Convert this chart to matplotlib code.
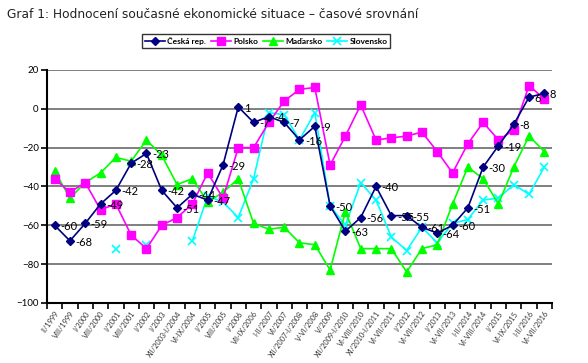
import numpy as np
import matplotlib
matplotlib.use("Agg")
import matplotlib.pyplot as plt

plt.rcParams['font.family'] = ['Lato', 'DejaVu Sans']

categories = ['II/1999', 'VIII/1999', 'I/2000', 'VIII/2000', 'I/2001', 'VIII/2001',
              'I/2002', 'I/2003', 'XII/2003-I/2004', 'VI-IX/2004', 'I/2005', 'VIII/2005',
              'I/2006', 'VII-IX/2006', 'I-II/2007', 'VI/2007', 'XII/2007-I/2008',
              'V-VI/2008', 'V/2009', 'XII/2009-I/2010', 'VI-VIII/2010', 'XI/2010-I/2011',
              'VI-VII/2011', 'I/2012', 'VI-VII/2012', 'I/2013', 'VI-VII/2013', 'I-II/2014',
              'VI-VIII/2014', 'I/2015', 'VI-IX/2015', 'I-II/2016', 'VI-VII/2016']

cesko = [-60, -68, -59, -49, -42, -28, -23, -42, -51, -44, -47, -29, 1, -7, -4, -7, -16,
         -9, -50, -63, -56, -40, -55, -55, -61, -64, -60, -51, -30, -19, -8, 6, 8]
polsko = [-36, -43, -38, -52, -49, -65, -72, -60, -56, -49, -33, -46, -20, -20, -7, 4, 10,
          11, -29, -14, 2, -16, -15, -14, -12, -22, -33, -18, -7, -16, -11, 12, 5]
madarsko = [-32, -46, -38, -33, -25, -27, -16, -24, -39, -36, -48, -43, -36, -59, -62, -61,
            -69, -70, -83, -53, -72, -72, -72, -84, -72, -70, -49, -30, -36, -49, -30, -14, -22]
slovensko = [np.nan, np.nan, np.nan, np.nan, -72, np.nan, -70, np.nan, np.nan, -68, -45, -48,
             -56, -36, -2, -3, -16, -2, -50, -60, -38, -47, -66, -73, -61, -69, -59, -57,
             -47, -46, -39, -44, -30]

x = np.arange(len(categories))

fig = plt.figure(figsize=(5.88, 3.63), dpi=100)
ax = fig.add_axes([0.0799, 0.1653, 0.8589, 0.6419])

for v in range(-80, 21, 20):
    ax.axhline(v, color='#7f7f7f', lw=1.4, zorder=1)

ax.plot(x, slovensko, color='#00ffff', marker='x', ms=6, mew=1.2, lw=1.2, label='Slovensko', zorder=3)
ax.plot(x, madarsko, color='#00ff00', marker='^', ms=5.5, lw=1.2, label='Maďarsko', zorder=4)
ax.plot(x, polsko, color='#ff00ff', marker='s', ms=5.5, lw=1.2, label='Polsko', zorder=5)
ax.plot(x, cesko, color='#000080', marker='D', ms=4, lw=1.2, label='Česká rep.', zorder=6)

for xi, v in zip(x, cesko):
    ax.annotate(str(v), (xi, v), xytext=(4, -1), textcoords='offset points',
                ha='left', va='center', fontsize=8, color='black', zorder=7)

ax.set_xlim(-0.5, len(categories) - 0.5)
ax.set_ylim(-100, 20)
ax.set_yticks(range(-100, 21, 20))
ax.tick_params(axis='y', labelsize=7, length=4, width=1.2, direction='out', pad=2)
ax.set_xticks(x)
ax.set_xticklabels(categories, rotation=55, ha='right', rotation_mode='anchor',
                   fontsize=5.3, color='#333333')
ax.set_xticks(np.arange(-0.5, len(categories)), minor=True)
ax.tick_params(axis='x', which='major', length=0, pad=5)
ax.tick_params(axis='x', which='minor', length=4, width=1.2, direction='out')

for s in ['top', 'right']:
    ax.spines[s].set_visible(False)
ax.spines['left'].set_linewidth(1.5)
ax.spines['bottom'].set_linewidth(1.5)

handles, labels = ax.get_legend_handles_labels()
order = [3, 2, 1, 0]
leg = fig.legend([handles[i] for i in order], [labels[i] for i in order],
                 loc='center', bbox_to_anchor=(0.453, 0.888), ncol=4,
                 prop={'size': 6, 'weight': 'bold'},
                 frameon=True, fancybox=False, edgecolor='black', handlelength=2.4,
                 columnspacing=0.6, handletextpad=0.25, borderpad=0.35)
leg.get_frame().set_linewidth(1.0)

fig.text(7 / 588, 1 - 15 / 363, 'Graf 1: Hodnocení současné ekonomické situace – časové srovnání',
         fontsize=8.8, family=['DejaVu Sans'], color='#222222', va='center', ha='left')

fig.savefig('out.png', dpi=100)
